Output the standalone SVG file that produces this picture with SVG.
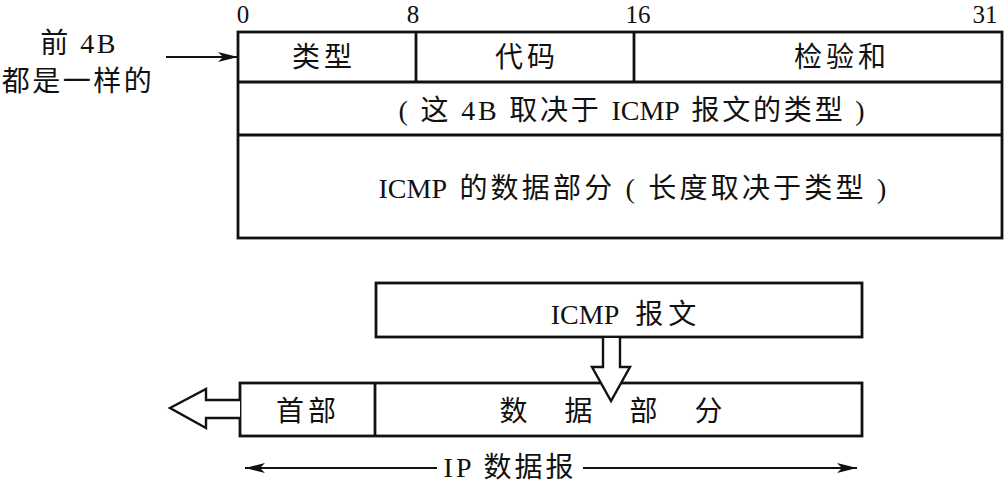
<svg xmlns="http://www.w3.org/2000/svg" width="1008" height="482" viewBox="0 0 1008 482">
<style>
text{font-family:"Liberation Serif","Noto Sans CJK SC",serif;fill:#111;font-size:28px}
.c{text-anchor:middle}
.sp{letter-spacing:2.5px}
.n{font-size:25px}
.lat{letter-spacing:0}
.box{fill:#fff;stroke:#111;stroke-width:2.8}
.ln{stroke:#111;stroke-width:2.2;fill:none}
.div{stroke:#111;stroke-width:2.8}
.hollow{fill:#fff;stroke:#111;stroke-width:2.4;stroke-linejoin:miter}
</style>
<defs>
<marker id="ah" viewBox="0 0 20 10" refX="20" refY="5" markerWidth="20" markerHeight="10" markerUnits="userSpaceOnUse" orient="auto-start-reverse">
<path d="M0,0 L20,5 L0,10 L5,5 Z" fill="#111"/>
</marker>
</defs>
<g id="bit-labels">
<text x="243" y="23" class="c n">0</text>
<text x="413" y="23" class="c n">8</text>
<text x="638" y="23" class="c n">16</text>
<text x="985" y="23" class="c n">31</text>
</g>
<g id="note">
<text x="79" y="53" class="c sp">前 4B</text>
<text x="78" y="91" class="c sp">都是一样的</text>
</g>
<g id="icmp-format">
<rect class="box" x="238" y="32" width="764" height="206"/>
<line class="div" x1="238" y1="82" x2="1002" y2="82"/>
<line class="div" x1="238" y1="135" x2="1002" y2="135"/>
<line class="div" x1="416" y1="32" x2="416" y2="82"/>
<line class="div" x1="634" y1="32" x2="634" y2="82"/>
<text x="324" y="67" class="c" letter-spacing="4">类型</text>
<text x="527" y="67" class="c" letter-spacing="4">代码</text>
<text x="842" y="67" class="c" letter-spacing="4">检验和</text>
<text x="633" y="120" class="c" letter-spacing="2.8">( 这 4B 取决于 <tspan class="lat">ICM</tspan>P 报文的类型 )</text>
<text x="634" y="198" class="c" letter-spacing="3.2"><tspan class="lat">ICM</tspan>P 的数据部分 ( 长度取决于类型 )</text>
</g>
<g id="icmp-msg">
<rect class="box" x="376" y="283" width="486" height="54"/>
<text x="626" y="324" class="c" letter-spacing="5"><tspan class="lat">ICM</tspan>P 报文</text>
</g>
<g id="ip-datagram">
<rect class="box" x="240" y="383" width="622" height="53"/>
<line class="div" x1="375" y1="383" x2="375" y2="436"/>
<text x="308" y="421" class="c" letter-spacing="4">首部</text>
<text x="613" y="421" class="c" xml:space="preserve" letter-spacing="4">数   据   部   分</text>
</g>
<g id="connectors">
<line class="ln" x1="166" y1="57" x2="238" y2="57" marker-end="url(#ah)"/>
<path class="hollow" d="M603,338 L603,367 L592,367 L611,401 L630,367 L620,367 L620,338"/>
<path class="hollow" d="M240,400 L206,400 L206,389 L170,408 L206,428 L206,418 L240,418"/>
<line class="ln" x1="437" y1="468" x2="245" y2="468" marker-end="url(#ah)"/>
<line class="ln" x1="583" y1="468" x2="857" y2="468" marker-end="url(#ah)"/>
<text x="510" y="477" class="c" letter-spacing="3">IP 数据报</text>
</g>
</svg>
